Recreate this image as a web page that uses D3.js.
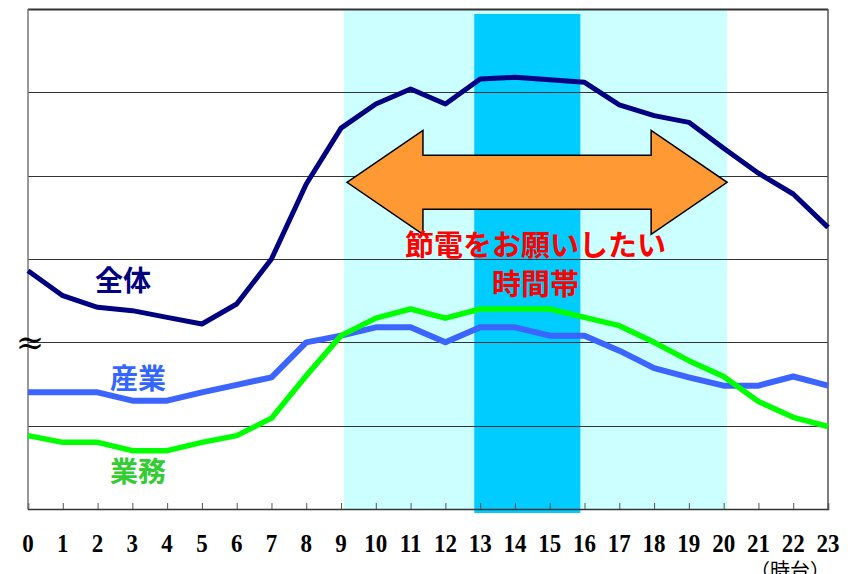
<!DOCTYPE html>
<html><head><meta charset="utf-8">
<script src="https://cdn.jsdelivr.net/npm/d3@7"></script>
<style>
html,body{margin:0;padding:0;background:#fff;}
svg{display:block;}
</style></head>
<body>
<script>
// ---- data (values in grid units: each horizontal gridline = 1) ----
const hours = d3.range(0, 24);
const hourLabels = ["0","1","2","3","4","5","6","7","8","9","10","11","12","13","14","15","16","17","18","19","20","21","22","23"];
const total    = [2.86,2.56,2.42,2.38,2.30,2.22,2.46,3.00,3.90,4.57,4.86,5.04,4.86,5.16,5.18,5.15,5.12,4.85,4.72,4.64,4.33,4.03,3.78,3.38];
const industry = [1.40,1.40,1.40,1.30,1.30,1.40,1.49,1.58,2.00,2.08,2.18,2.18,2.00,2.18,2.18,2.08,2.08,1.90,1.69,1.58,1.48,1.48,1.59,1.48];
const business = [0.88,0.80,0.80,0.70,0.70,0.80,0.88,1.09,1.60,2.08,2.29,2.40,2.29,2.40,2.40,2.40,2.30,2.20,2.00,1.78,1.59,1.29,1.10,0.99];
const seriesNames = ["全体","産業","業務"];
const gridValues = [0,1,2,3,4,5,6];
const peakPeriod = [9.08, 20.1];   // 節電をお願いしたい時間帯
const corePeriod = [12.83, 15.88];
const arrowSpan = [9.17, 20.1];
const unitLabel = "（時台）";
const noteText = ["節電をお願いしたい","時間帯"];

const W = 856, H = 574;
const svg = d3.select("body").append("svg").attr("width", W).attr("height", H);

const x = d3.scaleLinear().domain([0, 23]).range([28, 828]);
const y = d3.scaleLinear().domain([0, 6]).range([509, 9]);

// bands
svg.append("rect").attr("x", x(peakPeriod[0])).attr("y", y(6) + 1)
  .attr("width", x(peakPeriod[1]) - x(peakPeriod[0])).attr("height", y(0) - y(6) - 1)
  .attr("fill", "#ccffff");
svg.append("rect").attr("x", x(corePeriod[0])).attr("y", y(6) + 5)
  .attr("width", x(corePeriod[1]) - x(corePeriod[0])).attr("height", y(0) - y(6) - 1)
  .attr("fill", "#00ccff");

// gridlines
svg.append("g").selectAll("line").data(gridValues.slice(1)).join("line")
  .attr("x1", x(0)).attr("x2", x(23))
  .attr("y1", d => Math.round(y(d)) + 0.5).attr("y2", d => Math.round(y(d)) + 0.5)
  .attr("stroke", "#333").attr("stroke-width", d => d === 6 ? 2 : 1);

// x axis
const xAxis = d3.axisBottom(x).tickValues(hours).tickSize(-6).tickFormat("");
const gx = svg.append("g").attr("transform", `translate(0,${y(0)})`).call(xAxis);
gx.select(".domain").attr("stroke", "#333").attr("stroke-width", 1.5);
gx.selectAll(".tick line").attr("stroke", "#555");

// left/right borders
svg.append("line").attr("x1", x(0)).attr("x2", x(0)).attr("y1", y(6)).attr("y2", y(0))
  .attr("stroke", "#777").attr("stroke-width", 1.5);
svg.append("line").attr("x1", x(23)).attr("x2", x(23)).attr("y1", y(6)).attr("y2", y(0))
  .attr("stroke", "#555").attr("stroke-width", 1.5);

// tick labels
svg.append("g").selectAll("text").data(hours).join("text")
  .attr("x", d => x(d)).attr("y", 552)
  .attr("text-anchor", "middle")
  .attr("font-family", "'Liberation Serif','DejaVu Serif',serif")
  .attr("font-weight", "bold").attr("font-size", 25)
  .attr("transform", d => `translate(${x(d)},0) scale(0.92,1) translate(${-x(d)},0)`)
  .text((d, i) => hourLabels[i]);

svg.append("text").attr("x", 790).attr("y", 578).attr("text-anchor", "middle")
  .attr("font-family", "'Noto Sans CJK JP',sans-serif").attr("font-size", 20)
  .attr("fill", "#000").text(unitLabel);

// ≈ break mark
svg.append("text").attr("x", x(0) + 2).attr("y", y(2) + 12).attr("text-anchor", "middle")
  .attr("font-family", "'DejaVu Serif',serif").attr("font-size", 34).text("≈");

// arrow
const aL = x(arrowSpan[0]), aR = x(arrowSpan[1]);
const aY = y(3.92);
const headLen = 76, headHalf = 52, shaftHalf = 27;
const arrowPts = [
  [aL, aY], [aL + headLen, aY - headHalf], [aL + headLen, aY - shaftHalf],
  [aR - headLen, aY - shaftHalf], [aR - headLen, aY - headHalf], [aR, aY],
  [aR - headLen, aY + headHalf], [aR - headLen, aY + shaftHalf],
  [aL + headLen, aY + shaftHalf], [aL + headLen, aY + headHalf]
];
svg.append("path").attr("d", d3.line()(arrowPts) + "Z")
  .attr("fill", "#ff9933").attr("stroke", "#000").attr("stroke-width", 1.5)
  .attr("stroke-linejoin", "miter");

// note text
const noteX = (x(peakPeriod[0]) + x(peakPeriod[1])) / 2;
svg.append("g").selectAll("text").data(noteText).join("text")
  .attr("x", noteX).attr("y", (d, i) => 256 + i * 39)
  .attr("text-anchor", "middle")
  .attr("font-family", "'Noto Sans CJK JP',sans-serif").attr("font-weight", "bold")
  .attr("font-size", 29).attr("fill", "#ff0000")
  .text(d => d);

// lines
const line = d3.line().x((d, i) => x(hours[i])).y(d => y(d));
const series = [
  {vals: total, color: "#000080", w: 5},
  {vals: industry, color: "#3c64ff", w: 6},
  {vals: business, color: "#00ff00", w: 5.5}
];
svg.append("g").selectAll("path").data(series).join("path")
  .attr("d", d => line(d.vals)).attr("fill", "none")
  .attr("stroke", d => d.color).attr("stroke-width", d => d.w)
  .attr("stroke-linejoin", "round");

// series labels
const labelInfo = [
  {t: seriesNames[0], x: 123, y: 291, c: "#000080"},
  {t: seriesNames[1], x: 138, y: 389, c: "#3366ff"},
  {t: seriesNames[2], x: 138, y: 482, c: "#33cc33"}
];
svg.append("g").selectAll("text").data(labelInfo).join("text")
  .attr("x", d => d.x).attr("y", d => d.y).attr("text-anchor", "middle")
  .attr("font-family", "'Noto Sans CJK JP',sans-serif").attr("font-weight", "bold")
  .attr("font-size", 28).attr("fill", d => d.c).text(d => d.t);
</script>
</body></html>
